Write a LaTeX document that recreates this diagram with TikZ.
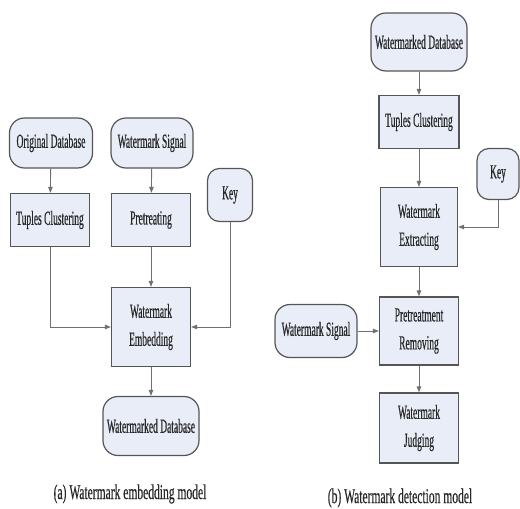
\documentclass[tikz,border=0pt]{standalone}
\usepackage{fontspec}
\setmainfont{Liberation Serif}
\newfontfamily\nodefnt[FakeStretch=0.475,FakeBold=0.4]{Liberation Serif}
\newfontfamily\capfnt[FakeStretch=0.55,FakeBold=0.4]{Liberation Serif}
\usetikzlibrary{arrows.meta}
\definecolor{boxfill}{HTML}{E8EDF7}
\definecolor{boxline}{HTML}{555555}
\definecolor{conn}{HTML}{707070}
\begin{document}
\begin{tikzpicture}[x=1pt,y=-1pt,
  base/.style={fill=boxfill,draw=boxline,line width=1.2pt,inner sep=0pt,align=center,
    text=black!85,font={\nodefnt\fontsize{20}{28}\selectfont}},
  procbox/.style={base,rectangle},
  termbox/.style={base,rectangle,rounded corners=15pt},
  conn/.style={draw=conn,line width=0.9pt,-{Triangle[length=6pt,width=4.5pt]}},
  capt/.style={font={\capfnt\fontsize{21}{24}\selectfont},text=black!85}]
\useasboundingbox (0,0) rectangle (520,509);
% (a) embedding model
\node[termbox,minimum width=83pt,minimum height=50pt] (od) at (51,143) {Original Database};
\node[termbox,minimum width=82pt,minimum height=50pt] (ws) at (152,143) {Watermark Signal};
\node[procbox,minimum width=79pt,minimum height=53pt] (tc1) at (50,220) {Tuples Clustering};
\node[procbox,minimum width=79pt,minimum height=53pt] (pt) at (151,220) {Pretreating};
\node[termbox,rounded corners=12pt,minimum width=45pt,minimum height=53pt] (key1) at (230,195) {Key};
\node[procbox,minimum width=79pt,minimum height=79pt] (we) at (151,327) {Watermark\\Embedding};
\node[termbox,minimum width=96pt,minimum height=59pt] (wd1) at (151,426) {Watermarked Database};
\node[capt] (capa) at (130,494) {(a) Watermark embedding model};
\draw[conn] (od) -- (tc1);
\draw[conn] (ws) -- (pt);
\draw[conn] (pt) -- (we);
\draw[conn] (tc1.south) |- (we.west);
\draw[conn] (key1.south) |- (we.east);
\draw[conn] (we) -- (wd1);
% (b) detection model
\node[termbox,minimum width=96pt,minimum height=58pt] (wd2) at (419,42) {Watermarked Database};
\node[procbox,minimum width=80pt,minimum height=53pt] (tc2) at (419,122) {Tuples Clustering};
\node[termbox,rounded corners=12pt,minimum width=42pt,minimum height=51pt] (key2) at (498,174) {Key};
\node[procbox,minimum width=77pt,minimum height=79pt] (wx) at (419,227) {Watermark\\Extracting};
\node[procbox,minimum width=79pt,minimum height=68pt] (pr) at (419,331) {Pretreatment\\Removing};
\node[termbox,minimum width=82pt,minimum height=53pt] (ws2) at (316,331) {Watermark Signal};
\node[procbox,minimum width=79pt,minimum height=70pt] (wj) at (419,428) {Watermark\\Judging};
\node[capt] (captb) at (400,498) {(b) Watermark detection model};
\draw[conn] (wd2) -- (tc2);
\draw[conn] (tc2) -- (wx);
\draw[conn] (key2.south) |- (wx.east);
\draw[conn] (wx) -- (pr);
\draw[conn] (ws2) -- (pr);
\draw[conn] (pr) -- (wj);
\end{tikzpicture}
\end{document}
